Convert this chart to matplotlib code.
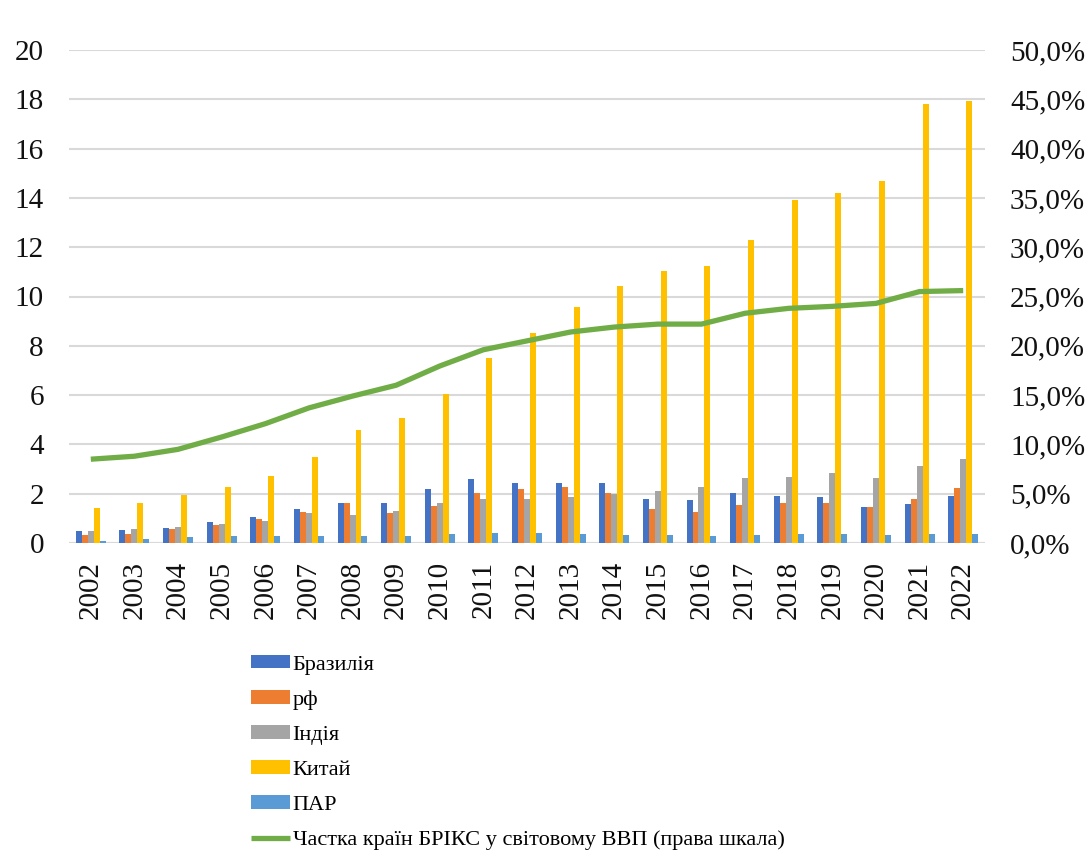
import matplotlib
matplotlib.use("Agg")
import matplotlib.pyplot as plt
import numpy as np
from matplotlib.ticker import FuncFormatter, MultipleLocator

plt.rcParams['font.family'] = ['Liberation Serif', 'DejaVu Serif']

years = [str(y) for y in range(2002, 2023)]
brazil = [0.47, 0.52, 0.62, 0.87, 1.06, 1.36, 1.64, 1.64, 2.18, 2.58, 2.43, 2.43, 2.43, 1.79, 1.75, 2.04, 1.89, 1.85, 1.45, 1.60, 1.89]
russia = [0.33, 0.37, 0.57, 0.72, 0.96, 1.26, 1.64, 1.21, 1.49, 2.04, 2.18, 2.28, 2.04, 1.36, 1.25, 1.55, 1.64, 1.64, 1.45, 1.79, 2.24]
india = [0.47, 0.57, 0.66, 0.76, 0.91, 1.21, 1.15, 1.30, 1.64, 1.79, 1.79, 1.85, 1.99, 2.09, 2.28, 2.62, 2.67, 2.82, 2.62, 3.11, 3.41]
china = [1.44, 1.64, 1.93, 2.28, 2.71, 3.50, 4.57, 5.06, 6.04, 7.50, 8.52, 9.57, 10.43, 11.03, 11.24, 12.29, 13.90, 14.20, 14.68, 17.80, 17.93]
sa = [0.08, 0.18, 0.23, 0.28, 0.28, 0.28, 0.28, 0.28, 0.38, 0.42, 0.42, 0.37, 0.33, 0.33, 0.28, 0.33, 0.37, 0.37, 0.33, 0.37, 0.37]
share = [8.5, 8.8, 9.5, 10.75, 12.1, 13.7, 14.9, 16.0, 17.95, 19.6, 20.5, 21.4, 21.9, 22.2, 22.2, 23.3, 23.8, 24.0, 24.3, 25.5, 25.6]

labels = ['Бразилія', 'рф', 'Індія', 'Китай', 'ПАР']
colors = ['#4472C4', '#ED7D31', '#A5A5A5', '#FFC000', '#5B9BD5']
line_label = 'Частка країн БРІКС у світовому ВВП (права шкала)'

fig = plt.figure(figsize=(10.9, 8.68), dpi=100)
ax = fig.add_axes([69/1090, 1-543/868, (985-69)/1090, (543-50)/868])
ax2 = ax.twinx()

x = np.arange(len(years))
w = 0.137
series = [brazil, russia, india, china, sa]
handles = []
for i, (vals, c, lab) in enumerate(zip(series, colors, labels)):
    b = ax.bar(x + (i - 2) * w, vals, width=w, color=c, label=lab, zorder=3, linewidth=0)
    handles.append(b)

ln, = ax2.plot(x, share, color='#70AD47', lw=3.8, solid_joinstyle='round', solid_capstyle='butt', label=line_label, zorder=4)
handles.append(ln)

ax.set_xlim(-0.5, len(years) - 0.5)
ax.set_ylim(0, 20)
ax2.set_ylim(0, 50)
ax.yaxis.set_major_locator(MultipleLocator(2))
ax2.yaxis.set_major_locator(MultipleLocator(5))
ax2.yaxis.set_major_formatter(FuncFormatter(lambda v, p: f"{v:.1f}".replace('.', ',') + '%'))

ax.set_xticks(x)
ax.set_xticklabels(years, rotation=90)
ax.grid(axis='y', color='#D9D9D9', lw=1.5, zorder=0)
ax.set_axisbelow(True)
ax2.set_zorder(ax.get_zorder() + 1)
ax2.patch.set_visible(False)

for a in (ax, ax2):
    for s in a.spines.values():
        s.set_visible(False)
    a.tick_params(length=0, labelsize=21, colors='#111111')
ax.tick_params(axis='y', pad=18)
ax.tick_params(axis='x', pad=13)
ax2.tick_params(axis='y', pad=18)
ax.axhline(0, color='#D9D9D9', lw=1.5, zorder=2)

fig.legend(handles=handles, labels=labels + [line_label], loc='upper left',
           bbox_to_anchor=(251/1090, 1-655/868), frameon=False, fontsize=16,
           handlelength=1.75, handleheight=0.55, handletextpad=0.12, labelspacing=0.70,
           borderaxespad=0, borderpad=0)

fig.savefig('out.png', dpi=100)
